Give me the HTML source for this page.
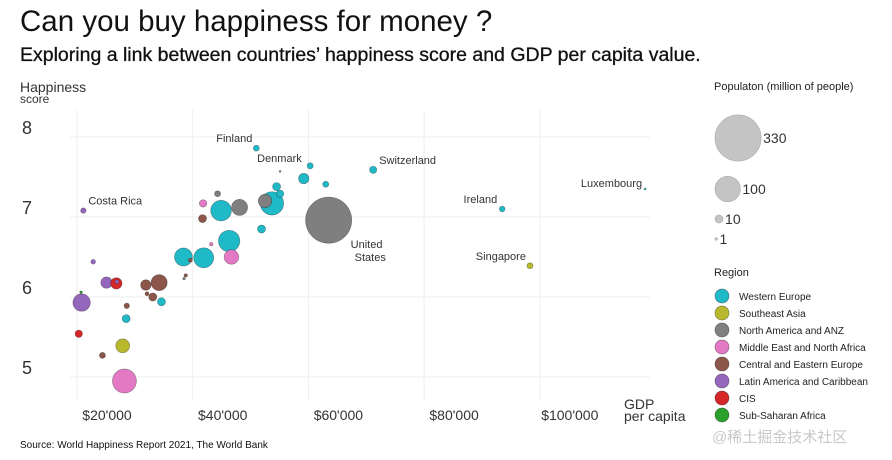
<!DOCTYPE html>
<html><head><meta charset="utf-8"><style>
body{margin:0;background:#fff;font-family:"Liberation Sans","Noto Sans CJK SC",sans-serif}
svg{display:block}
</style></head><body>
<svg id="c" width="892" height="460" xmlns="http://www.w3.org/2000/svg" font-family="Liberation Sans, Noto Sans CJK SC, sans-serif">
<text x="20" y="31" font-size="29.5" fill="#111">Can you buy happiness for money ?</text>
<text x="20" y="61" font-size="19.5" fill="#111" stroke="#111" stroke-width="0.3">Exploring a link between countries’   happiness score and GDP per capita value.</text>
<text x="20" y="92" font-size="14" fill="#333">Happiness</text>
<text x="20" y="103" font-size="12" fill="#333">score</text>
<text x="624" y="409" font-size="14" fill="#333">GDP</text>
<text x="624" y="421" font-size="14" fill="#333">per capita</text>
<g id="grid"></g><g id="marks"></g><g id="labels" font-size="11" fill="#333"></g>
<text x="20" y="448" font-size="10" fill="#111">Source: World Happiness Report 2021, The World Bank</text>
<text x="712" y="442" font-size="15" fill="#c8c8c8">@稀土掘金技术社区</text>
<text x="714" y="90" font-size="11" fill="#222">Populaton (million of people)</text>
<g id="sizeleg"></g>
<text x="714" y="276" font-size="11" fill="#222">Region</text>
<g id="regleg"></g>
</svg>
<script>
const regions=["Western Europe","Southeast Asia","North America and ANZ","Middle East and North Africa","Central and Eastern Europe","Latin America and Caribbean","CIS","Sub-Saharan Africa"];
const colors=["#1fb9c8","#b8b82c","#7f7f7f","#e378c4","#8c564b","#9467bd","#d62728","#2ca02c"];
const xTicks=[20000,40000,60000,80000,100000];
const xTickLabels=["$20'000","$40'000","$60'000","$80'000","$100'000"];
const yTicks=[8,7,6,5];
const gdp=[51000,55100,60300,59200,63000,71200,54500,55100,53700,52500,48100,44900,44300,41800,41700,63500,51900,46300,43200,46700,41900,38400,39600,38800,38500,34200,31900,33100,32100,34600,25100,26800,26900,22800,21100,20800,20700,28600,28500,20300,27900,24400,28200,93500,98300,118200];
const score=[7.86,7.57,7.64,7.48,7.41,7.59,7.38,7.29,7.17,7.20,7.12,7.08,7.29,7.17,6.98,6.96,6.85,6.70,6.66,6.50,6.49,6.50,6.46,6.27,6.23,6.18,6.15,6.00,6.04,5.94,6.18,6.17,6.19,6.44,7.08,5.93,6.06,5.89,5.73,5.54,5.39,5.27,4.95,7.10,6.39,7.35];
const pop=[5.5,0.6,5.8,17,5.6,8,10,8.5,85,28,40,66,5.6,8.5,10,330,10,71,1.8,33,62,50,2.5,1.8,1,40,17,10,2.5,10,20,20,2.5,3.3,4.5,47,1,4.5,10,8.5,30,5.6,89,5,5.6,0.6];
const region=[0,2,0,0,0,0,0,0,0,2,2,0,2,3,4,2,0,0,3,3,0,0,4,4,2,4,4,4,4,0,5,6,5,5,5,5,7,4,0,6,1,4,3,0,1,0];
const names=["Finland","","Denmark","","","Switzerland","","","","","","","","","","United States","","","","","","","","","","","","","","","","","","","Costa Rica","","","","","","","","","Ireland","Singapore","Luxembourg"];
const sizeVals=[330,100,10,1];
const NS="http://www.w3.org/2000/svg";
const X=g=>77+(g-20000)*0.005785, Y=s=>137+(8-s)*80, R=p=>1.27*Math.sqrt(p);
function mk(t,a,parent){const e=document.createElementNS(NS,t);for(const k in a)e.setAttribute(k,a[k]);parent.appendChild(e);return e;}
const grid=document.getElementById('grid'),marks=document.getElementById('marks'),labels=document.getElementById('labels');
xTicks.forEach((v,i)=>{
 const l=mk('line',{x1:X(v),x2:X(v),y1:110,y2:400,stroke:'#eee'},grid);
 
 
 const t=mk('text',{x:X(v)+30,y:420,'font-size':14,fill:'#333','text-anchor':'middle'},grid);t.textContent=xTickLabels[i];
 
 
});
yTicks.forEach(v=>{
 const l=mk('line',{x1:70,x2:650,y1:Y(v),y2:Y(v),stroke:'#eee'},grid);
 
 
 const t=mk('text',{x:22,y:Y(v)-3,'font-size':18,fill:'#333'},grid);t.textContent=v;
 
 
});
const order=gdp.map((_,i)=>i).sort((a,b)=>pop[b]-pop[a]);
order.forEach(i=>{
 const c=mk('circle',{cx:X(gdp[i]),cy:Y(score[i]),r:R(pop[i]),fill:colors[region[i]],stroke:'rgba(0,0,0,0.35)','stroke-width':0.7},marks);
 
 
});
const lblPos={"Finland":[-4,-6,'end'],"Denmark":[-53,-4,'start'],"Switzerland":[6,-6,'start'],"Costa Rica":[5,-6,'start'],"Ireland":[-5,-6,'end'],"Singapore":[-4,-6,'end'],"Luxembourg":[-3,-2,'end'],"United States":[22,28,'start']};
names.forEach((n,i)=>{
 if(!n)return;const p=lblPos[n];
 const t=mk('text',{x:X(gdp[i])+p[0],y:Y(score[i])+p[1],'text-anchor':p[2]},labels);
 if(n==="United States"){t.textContent="United";const t2=mk('text',{x:X(gdp[i])+p[0]+4,y:Y(score[i])+p[1]+13},labels);t2.textContent="States";
  
  }
 else t.textContent=n;
 
 
});
const sl=document.getElementById('sizeleg');let sy=[138,189,219,239];
sizeVals.forEach((v,i)=>{const r=R(v);
 const c=mk('circle',{cx:715+r,cy:sy[i],r:r,fill:'#c4c4c4',stroke:'#aaa','stroke-width':0.6},sl);
 
 
 const t=mk('text',{x:717+2*r,y:sy[i]+5,'font-size':14,fill:'#333'},sl);t.textContent=v;
 
 
});
const rl=document.getElementById('regleg');
regions.forEach((n,i)=>{const y=296+i*17;
 const c=mk('circle',{cx:722,cy:y,r:7,fill:colors[i],stroke:'rgba(0,0,0,0.4)','stroke-width':0.7},rl);
 
 
 const t=mk('text',{x:739,y:y+4,'font-size':10,fill:'#222'},rl);t.textContent=n;
 
 
});
</script>
</body></html>
